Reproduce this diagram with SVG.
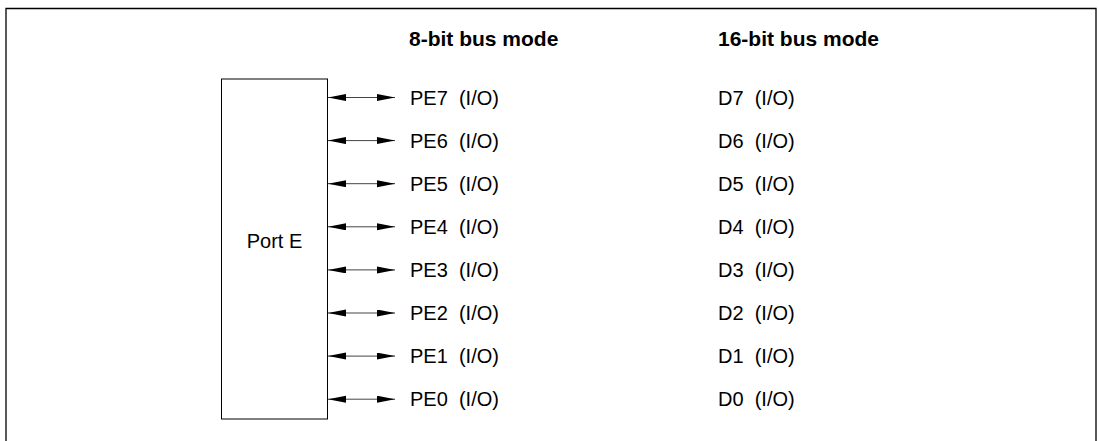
<svg xmlns="http://www.w3.org/2000/svg" width="1099" height="441" viewBox="0 0 1099 441">
<style>
.t{font-family:"Liberation Sans",Arial,sans-serif;font-size:20px;fill:#000}
.h{font-family:"Liberation Sans",Arial,sans-serif;font-size:21px;font-weight:bold;fill:#000}
.c{stroke:#444;stroke-width:1;fill:none;marker-start:url(#ah);marker-end:url(#ah)}
</style>
<defs>
<marker id="ah" markerUnits="userSpaceOnUse" markerWidth="19" markerHeight="8" refX="18" refY="3.5" orient="auto-start-reverse">
<path d="M0,0 L18,3.5 L0,7 z" fill="#000"/>
</marker>
</defs>
<path d="M6,441 V8.5 H1096 V441" fill="none" stroke="#000" stroke-width="1.3"/>
<text class="h" x="409" y="45.5">8-bit bus mode</text>
<text class="h" x="718" y="45.5">16-bit bus mode</text>
<g id="portE">
<rect x="221.5" y="79" width="106" height="340" fill="#fff" stroke="#000" stroke-width="1"/>
<text class="t" x="274.5" y="248" text-anchor="middle">Port E</text>
</g>
<g id="connectors">
<line class="c" x1="328" y1="97.5" x2="395" y2="97.5"/>
<line class="c" x1="328" y1="140.6" x2="395" y2="140.6"/>
<line class="c" x1="328" y1="183.7" x2="395" y2="183.7"/>
<line class="c" x1="328" y1="226.8" x2="395" y2="226.8"/>
<line class="c" x1="328" y1="269.9" x2="395" y2="269.9"/>
<line class="c" x1="328" y1="313" x2="395" y2="313"/>
<line class="c" x1="328" y1="356.1" x2="395" y2="356.1"/>
<line class="c" x1="328" y1="399.2" x2="395" y2="399.2"/>
</g>
<g id="pe7"><text class="t" x="410" y="104.5" xml:space="preserve">PE7  (I/O)</text></g>
<g id="pe6"><text class="t" x="410" y="147.6" xml:space="preserve">PE6  (I/O)</text></g>
<g id="pe5"><text class="t" x="410" y="190.7" xml:space="preserve">PE5  (I/O)</text></g>
<g id="pe4"><text class="t" x="410" y="233.8" xml:space="preserve">PE4  (I/O)</text></g>
<g id="pe3"><text class="t" x="410" y="276.9" xml:space="preserve">PE3  (I/O)</text></g>
<g id="pe2"><text class="t" x="410" y="320" xml:space="preserve">PE2  (I/O)</text></g>
<g id="pe1"><text class="t" x="410" y="363.1" xml:space="preserve">PE1  (I/O)</text></g>
<g id="pe0"><text class="t" x="410" y="406.2" xml:space="preserve">PE0  (I/O)</text></g>
<g id="d7"><text class="t" x="718" y="104.5" xml:space="preserve">D7  (I/O)</text></g>
<g id="d6"><text class="t" x="718" y="147.6" xml:space="preserve">D6  (I/O)</text></g>
<g id="d5"><text class="t" x="718" y="190.7" xml:space="preserve">D5  (I/O)</text></g>
<g id="d4"><text class="t" x="718" y="233.8" xml:space="preserve">D4  (I/O)</text></g>
<g id="d3"><text class="t" x="718" y="276.9" xml:space="preserve">D3  (I/O)</text></g>
<g id="d2"><text class="t" x="718" y="320" xml:space="preserve">D2  (I/O)</text></g>
<g id="d1"><text class="t" x="718" y="363.1" xml:space="preserve">D1  (I/O)</text></g>
<g id="d0"><text class="t" x="718" y="406.2" xml:space="preserve">D0  (I/O)</text></g>
</svg>
